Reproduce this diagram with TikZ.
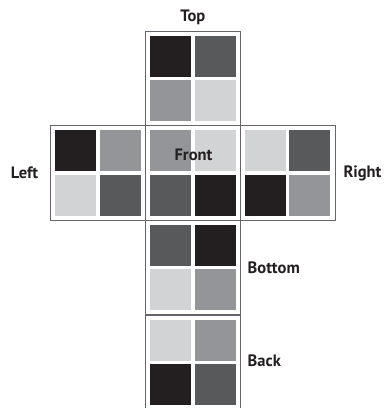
\documentclass[tikz,border=0pt]{standalone}
\usepackage{fontspec}
\setmainfont{PT Sans}
\definecolor{cblack}{RGB}{35,31,32}
\definecolor{cdark}{RGB}{88,89,91}
\definecolor{cmed}{RGB}{147,149,152}
\definecolor{clight}{RGB}{209,211,212}
\definecolor{frame}{RGB}{105,99,108}
\definecolor{txt}{RGB}{35,31,32}
\begin{document}
\begin{tikzpicture}[x=1pt,y=-1pt,
  face/.style={draw=frame,line width=1.2pt,minimum width=95pt,minimum height=94.5pt,inner sep=0pt,outer sep=0pt},
  sq/.style={minimum size=41pt,inner sep=0pt,outer sep=0pt,fill=#1},
  lab/.style={font=\bfseries\fontsize{16.5}{16.5}\selectfont,text=txt,inner sep=0pt}]
\useasboundingbox (0,0) rectangle (386,408);
\newcommand{\facesq}[6]{%
  \node[sq=#3] (#1-a) at (#2) [xshift=-22.2pt,yshift=22.2pt] {};
  \node[sq=#4] (#1-b) at (#2) [xshift=22.2pt,yshift=22.2pt] {};
  \node[sq=#5] (#1-c) at (#2) [xshift=-22.2pt,yshift=-22.2pt] {};
  \node[sq=#6] (#1-d) at (#2) [xshift=22.2pt,yshift=-22.2pt] {};}
\coordinate (ctop) at (192.8,78.5);
\coordinate (cleft) at (98,173.1);
\coordinate (cfront) at (192.8,173.1);
\coordinate (cright) at (287.6,173.1);
\coordinate (cbottom) at (192.8,267.7);
\coordinate (cback) at (192.8,362.3);
\facesq{top}{ctop}{cblack}{cdark}{cmed}{clight}
\facesq{left}{cleft}{cblack}{cmed}{clight}{cdark}
\facesq{front}{cfront}{cmed}{clight}{cdark}{cblack}
\facesq{right}{cright}{clight}{cdark}{cblack}{cmed}
\facesq{bottom}{cbottom}{cdark}{cblack}{clight}{cmed}
\facesq{back}{cback}{clight}{cmed}{cblack}{cdark}
\node[face] (top) at (ctop) {};
\node[face] (left) at (cleft) {};
\node[face] (front) at (cfront) {};
\node[face] (right) at (cright) {};
\node[face] (bottom) at (cbottom) {};
\node[face] (back) at (cback) {};
\node[lab] (ltop) at (192.8,17) {Top};
\node[lab] (lleft) at (24.5,173) {Left};
\node[lab] (lright) at (362.5,173) {Right};
\node[lab] (lfront) at (193.5,155) {Front};
\node[lab,anchor=west] (lbottom) at (247.5,268) {Bottom};
\node[lab,anchor=west] (lback) at (247.5,361) {Back};
\end{tikzpicture}
\end{document}
